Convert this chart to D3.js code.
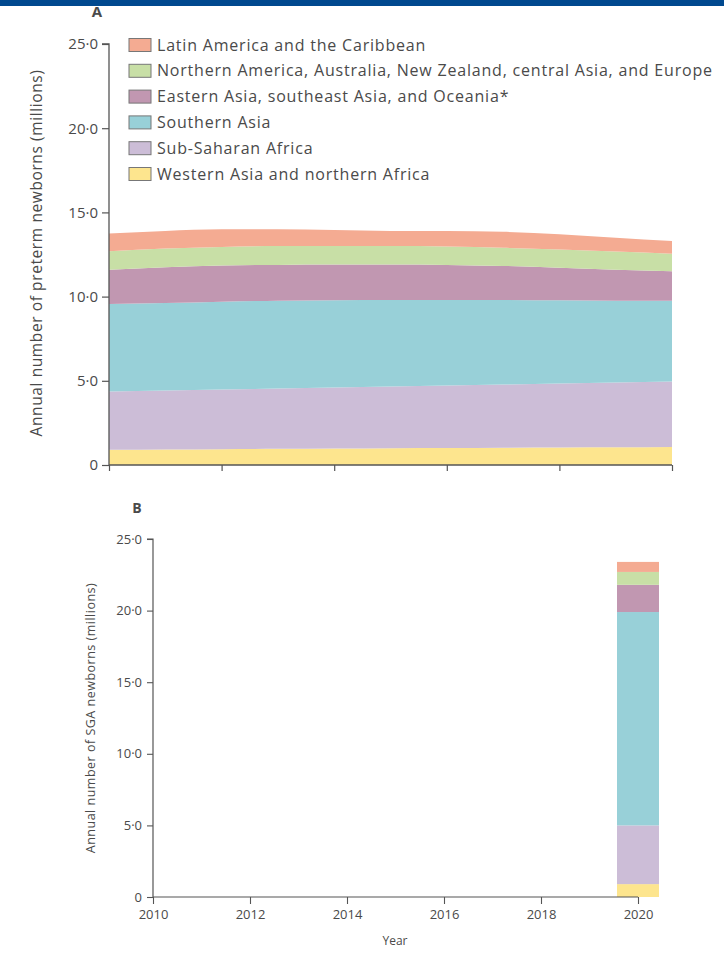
<!DOCTYPE html>
<html><head><meta charset="utf-8">
<script src="https://cdn.jsdelivr.net/npm/d3@7"></script>
<style>body{margin:0;background:#fff}svg{display:block}text{font-family:"Open Sans",sans-serif;fill:#4a4a4a}</style>
</head><body>
<script>
const years = [2010,2011,2012,2013,2014,2015,2016,2017,2018,2019,2020];
const regions = ["Latin America and the Caribbean","Northern America, Australia, New Zealand, central Asia, and Europe","Eastern Asia, southeast Asia, and Oceania*","Southern Asia","Sub-Saharan Africa","Western Asia and northern Africa"];
const keys = ["latin","northern","eastern","southern","subsaharan","western"];
const colors = ["#f4ab92","#c8dfa6","#c197b1","#98d0d8","#ccbdd7","#fde58e"];
// preterm (millions), panel A
const western    = [0.90,0.92,0.94,0.96,0.98,1.00,1.01,1.03,1.04,1.05,1.07];
const subsaharan = [3.46,3.50,3.54,3.58,3.62,3.66,3.71,3.75,3.80,3.85,3.89];
const southern   = [5.20,5.20,5.22,5.21,5.18,5.14,5.08,5.02,4.94,4.86,4.79];
const eastern    = [2.04,2.13,2.15,2.13,2.12,2.10,2.08,2.02,1.94,1.84,1.75];
const northern   = [1.10,1.10,1.10,1.12,1.10,1.10,1.10,1.08,1.08,1.08,1.05];
const latin      = [1.05,1.05,1.05,1.00,0.95,0.90,0.92,0.95,0.90,0.82,0.75];
// SGA (millions), panel B, year 2020 only
const sgaYear = 2020;
const sgaWestern=0.9, sgaSubsaharan=4.1, sgaSouthern=14.9, sgaEastern=1.9, sgaNorthern=0.9, sgaLatin=0.7;
const yTicks = [0,5,10,15,20,25];
const xTicks = [2010,2012,2014,2016,2018,2020];
const fmt = v => v===0 ? "0" : v.toFixed(1).replace(".","\u00b7");

const W=724,H=953;
const svg=d3.select("body").append("svg").attr("width",W).attr("height",H);
svg.append("rect").attr("x",0).attr("y",0).attr("width",W).attr("height",6).attr("fill","#00498f");

const series = {western,subsaharan,southern,eastern,northern,latin};
const rows = years.map((y,i)=>{const r={year:y}; keys.forEach(k=>r[k]=series[k][i]); return r;});
const stackKeys = keys.slice().reverse(); // bottom first
const stack = d3.stack().keys(stackKeys)(rows);
const colorOf = k => colors[keys.indexOf(k)];

// Panel A
const xA=d3.scaleLinear().domain([2010,2020]).range([109,672]);
const yA=d3.scaleLinear().domain([0,25]).range([465,44]);
const area=d3.area().x(d=>xA(d.data.year)).y0(d=>yA(d[0])).y1(d=>yA(d[1])).curve(d3.curveMonotoneX);
const gA=svg.append("g");
gA.selectAll("path.a").data(stack).join("path").attr("d",area).attr("fill",d=>colorOf(d.key));
const axA=gA.append("g").attr("transform","translate(109,0)").call(d3.axisLeft(yA).tickValues(yTicks).tickFormat(fmt).tickSize(7).tickPadding(4));
const axAx=gA.append("g").attr("transform","translate(0,465)").call(d3.axisBottom(xA).tickValues(xTicks).tickFormat("").tickSize(6));
[axA,axAx].forEach(a=>{a.select(".domain").attr("stroke","#555").attr("stroke-width",1.3);a.selectAll(".tick line").attr("stroke","#555").attr("stroke-width",1.2);a.selectAll("text").style("font-size","15px").attr("fill","#555");});
axAx.select(".domain").attr("d","M109,0H672");
axA.select(".domain").attr("d","M-7,"+yA(25)+"H0V"+yA(0));
svg.append("text").attr("transform","translate(42,253) rotate(-90)").attr("text-anchor","middle").style("font-size","15.5px").style("letter-spacing","0.6px").text("Annual number of preterm newborns (millions)");
svg.append("text").attr("x",97).attr("y",17).attr("text-anchor","middle").style("font-size","15px").style("font-weight","bold").attr("fill","#333").text("A");

// Legend
const lg=svg.append("g");
regions.forEach((r,i)=>{
  const y=45+i*25.8;
  lg.append("rect").attr("x",129).attr("y",y-6.5).attr("width",22).attr("height",13).attr("fill",colors[i]).attr("stroke","#777").attr("stroke-width",1);
  lg.append("text").attr("x",157).attr("y",y+5.5).style("font-size","16px").style("letter-spacing","0.8px").attr("fill","#444").text(r);
});

// Panel B
const xB=d3.scaleLinear().domain([2010,2020]).range([153,638]);
const yB=d3.scaleLinear().domain([0,25]).range([897,539]);
const gB=svg.append("g");
const sgaRow={year:sgaYear, western:sgaWestern, subsaharan:sgaSubsaharan, southern:sgaSouthern, eastern:sgaEastern, northern:sgaNorthern, latin:sgaLatin};
const stackB=d3.stack().keys(stackKeys)([sgaRow]);
const bw=42;
gB.selectAll("rect.b").data(stackB).join("rect").attr("x",xB(sgaYear)-bw/2).attr("width",bw)
  .attr("y",d=>yB(d[0][1])).attr("height",d=>yB(d[0][0])-yB(d[0][1])).attr("fill",d=>colorOf(d.key));
const axB=gB.append("g").attr("transform","translate(153,0)").call(d3.axisLeft(yB).tickValues(yTicks).tickFormat(fmt).tickSize(6).tickPadding(5));
const axBx=gB.append("g").attr("transform","translate(0,897)").call(d3.axisBottom(xB).tickValues(xTicks).tickFormat(d3.format("d")).tickSize(7).tickPadding(6));
[axB,axBx].forEach(a=>{a.select(".domain").attr("stroke","#555").attr("stroke-width",1.2);a.selectAll(".tick line").attr("stroke","#555").attr("stroke-width",1.1);a.selectAll("text").style("font-size","13px").attr("fill","#555");});
axB.select(".domain").attr("d","M-6,"+yB(25)+"H0V"+yB(0));
axBx.select(".domain").attr("d","M153,0H638");
svg.append("text").attr("transform","translate(95,718) rotate(-90)").attr("text-anchor","middle").style("font-size","12.5px").style("letter-spacing","0.5px").text("Annual number of SGA newborns (millions)");
svg.append("text").attr("x",395).attr("y",945).attr("text-anchor","middle").style("font-size","12px").text("Year");
svg.append("text").attr("x",137).attr("y",513).attr("text-anchor","middle").style("font-size","14px").style("font-weight","bold").attr("fill","#333").text("B");
</script>
</body></html>
